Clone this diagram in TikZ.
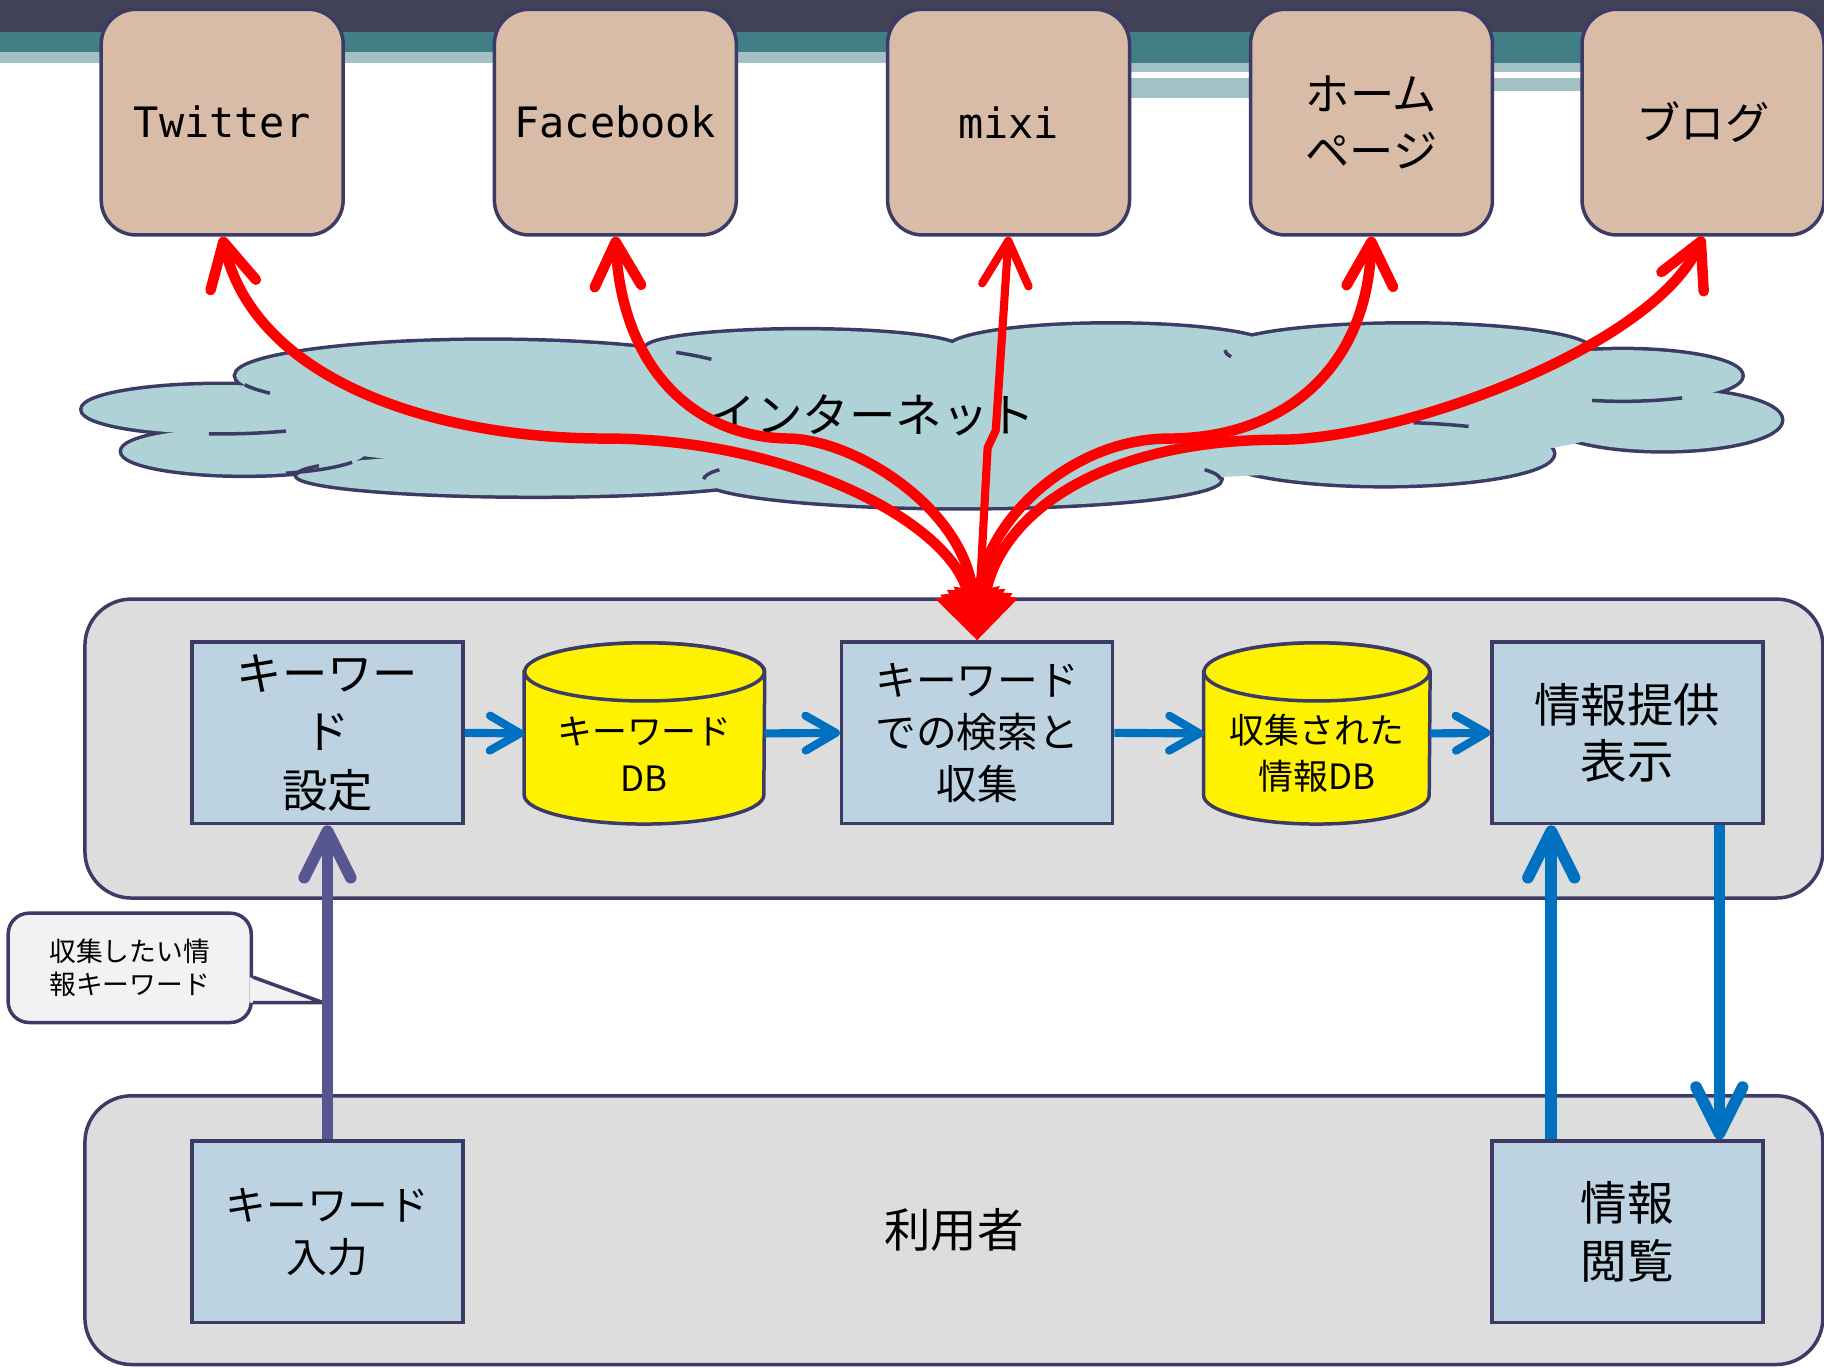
\documentclass[tikz,border=0pt]{standalone}
\usepackage{fontspec}
\setmainfont{Noto Sans CJK JP}
\newfontfamily\latinmono{DejaVu Sans Mono}
\usetikzlibrary{arrows.meta,calc}

\definecolor{navyline}{HTML}{3B3B66}
\definecolor{siteFill}{HTML}{D9BCA8}
\definecolor{cloudFill}{HTML}{AED2D6}
\definecolor{panelFill}{HTML}{DDDDDD}
\definecolor{boxFill}{HTML}{BDD3E1}
\definecolor{noteFill}{HTML}{F2F2F2}
\definecolor{flowBlue}{HTML}{0070C0}
\definecolor{inPurple}{HTML}{565690}
\definecolor{bandDark}{HTML}{414257}
\definecolor{bandTeal}{HTML}{417E85}
\definecolor{bandLight}{HTML}{A2C0C5}

% cylinder drawn round an empty slot node: #1 node, #2 x radius
\newcommand{\dbcyl}[2]{%
  \filldraw[dbbody] ($(#1.north west)+(0,25)$) -- ($(#1.south west)-(0,25)$)
    arc[start angle=180, end angle=0, x radius=#2, y radius=25]
    -- ($(#1.north east)+(0,25)$)
    arc[start angle=0, end angle=-180, x radius=#2, y radius=25] -- cycle;
  \draw[dbbody] ($(#1.north)+(0,25)$) ellipse[x radius=#2, y radius=25];}

\begin{document}
\begin{tikzpicture}[x=0.5pt, y=-0.5pt,
    site/.style={rectangle, rounded corners=15pt, draw=navyline, line width=1.5pt,
        fill=siteFill, minimum width=104pt, minimum height=97pt, align=center,
        font=\fontsize{19}{24.5}\selectfont},
    panel/.style={rectangle, rounded corners=20pt, draw=navyline, line width=1.5pt,
        fill=panelFill, minimum width=747pt, font=\fontsize{20}{25}\selectfont},
    proc/.style={rectangle, draw=navyline, line width=1.5pt, fill=boxFill,
        minimum width=116.5pt, minimum height=78pt, align=center,
        font=\fontsize{19.5}{25}\selectfont},
    dbslot/.style={rectangle, minimum height=77.5pt, inner sep=0pt},
    dbbody/.style={draw=navyline, line width=1.5pt, fill=yellow},
    dbtext/.style={align=center, font=\fontsize{15}{20}\selectfont},
    note/.style={rectangle, rounded corners=9pt, draw=navyline, line width=1.5pt,
        fill=noteFill, minimum width=104.5pt, minimum height=47pt, align=center,
        font=\fontsize{11.5}{14}\selectfont},
    fetch/.style={draw=red, line width=4.5pt, line cap=round, line join=round,
        arrows={Triangle[length=21pt,width=27pt]-Straight Barb[round,length=19pt,width=20pt]}},
    flow/.style={draw=flowBlue, line width=3.5pt,
        -{Straight Barb[round,length=13pt,width=15pt]}},
    flowv/.style={draw=flowBlue, line width=5pt,
        -{Straight Barb[round,length=20pt,width=20pt]}},
    entry/.style={draw=inPurple, line width=5pt,
        -{Straight Barb[round,length=20pt,width=20pt]}}
]
    \useasboundingbox (0,0) rectangle (1568,1176);

    % title bands
    \fill[bandDark] (0,0) rectangle (1568,27.5);
    \fill[bandTeal] (0,27.5) rectangle (1568,44.7);
    \fill[bandLight] (0,44.7) rectangle (970,54.2);
    \fill[bandTeal] (970,44.7) rectangle (1568,54.2);
    \fill[bandLight] (970,54.2) rectangle (1568,61.6);
    \fill[bandLight] (970,67.4) rectangle (1283,84);
    \fill[bandLight] (1283,67.4) rectangle (1568,78);

    % sites
    \node[site, font=\latinmono\fontsize{18}{22}\selectfont] (tw) at (191,105) {Twitter};
    \node[site, font=\latinmono\fontsize{18}{22}\selectfont] (fb) at (529,105) {Facebook};
    \node[site, font=\latinmono\fontsize{18}{22}\selectfont] (mx) at (867,105) {mixi};
    \node[site] (hp) at (1179,105) {ホーム\\ページ};
    \node[site] (blog) at (1464,105) {ブログ};

    % internet cloud
    \foreach \cx/\cy/\rx/\ry in {420/323/217/30, 690/300/135/16, 955/300/140/21,
        1210/301/157/22, 1395/323/102/22, 1430/361/101/26, 1190/390/145/27,
        827/412/222/24, 460/408/205/18, 190/352/119/21, 210/388/105/20}
        \filldraw[draw=navyline, line width=3pt, fill=cloudFill] (\cx,\cy) ellipse[x radius=\rx, y radius=\ry];
    \foreach \cx/\cy/\rx/\ry in {420/323/217/30, 690/300/135/16, 955/300/140/21,
        1210/301/157/22, 1395/323/102/22, 1430/361/101/26, 1190/390/145/27,
        827/412/222/24, 460/408/205/18, 190/352/119/21, 210/388/105/20, 800/360/600/55,
        1250/345/160/30}
        \fill[cloudFill] (\cx,\cy) ellipse[x radius=\rx, y radius=\ry];
    \foreach \cx/\cy/\rx/\ry/\a/\b in {190/352/119/21/95/62, 210/388/105/20/70/28,
        460/408/205/18/180/205, 827/412/222/24/0/-20, 1190/390/145/27/-80/-60,
        1395/323/102/22/105/60, 420/323/217/30/-42/-28, 420/323/217/30/165/150,
        827/412/222/24/180/200, 1210/301/157/22/180/165}
        \draw[navyline, line width=1.5pt] ({\cx+\rx*cos(\a)},{\cy+\ry*sin(\a)})
            arc[start angle=\a, end angle=\b, x radius=\rx, y radius=\ry];
    \node[font=\fontsize{20}{24}\selectfont] (net) at (750,357) {インターネット};

    % system and user panels
    \node[panel, minimum height=128.5pt] (sys) at (820,643.5) {};
    \node[panel, minimum height=115.5pt] (usr) at (820,1057.5) {利用者};

    \node[proc] (kset) at (281.5,630) {キーワー\\ド\\設定};
    \node[dbslot, minimum width=103pt] (kdb) at (554,630.5) {};
    \dbcyl{kdb}{103}
    \node[dbtext] (kdbtext) at ($(kdb)+(0,18)$) {キーワード\\DB};
    \node[proc, font=\fontsize{17.5}{22.5}\selectfont] (srch) at (840,630) {キーワード\\での検索と\\収集};
    \node[dbslot, minimum width=97pt] (idb) at (1132,630.5) {};
    \dbcyl{idb}{97}
    \node[dbtext] (idbtext) at ($(idb)+(0,17)$) {収集された\\情報DB};
    \node[proc, font=\fontsize{20}{24}\selectfont] (show) at (1399,630) {情報提供\\表示};

    \node[proc, font=\fontsize{17.5}{22.5}\selectfont] (kin) at (281.5,1059) {キーワード\\入力};
    \node[proc, font=\fontsize{20}{25}\selectfont] (view) at (1399,1059) {情報\\閲覧};

    \draw[flow] (kset.east) -- (kdb.west);
    \draw[flow] (kdb.east) -- (srch.west);
    \draw[flow] (srch.east) -- (idb.west);
    \draw[flow] (idb.east) -- (show.west);
    \draw[flowv] ($(view.north west)+(52.5,0)$) -- ($(show.south west)+(52.5,0)$);
    \draw[flowv] ($(show.south east)+(-39,0)$) -- ($(view.north east)+(-39,0)$);

    % callout
    \node[note] (hint) at (111.5,832) {収集したい情\\報キーワード};
    \coordinate (hinttip) at (278,862);
    \fill[noteFill] ($(hint.east)+(-3,8)$) -- (hinttip) -- ($(hint.east)+(-3,30)$) -- cycle;
    \draw[navyline, line width=1.5pt, line join=round] ($(hint.east)+(0,8)$) -- (hinttip) -- ($(hint.east)+(0,30)$);
    \draw[entry] (kin.north) -- (kset.south);

    % fetching over the internet
    \draw[fetch] (srch.north) .. controls (820,450) and (680,377) .. (520,377)
        .. controls (380,377) and (220,330) .. (tw.south);
    \draw[fetch] (srch.north) .. controls (830,440) and (740,380) .. (680,377)
        .. controls (600,377) and (535,320) .. (fb.south);
    \draw[fetch, line width=3.5pt] (srch.north) -- (849,385) -- (856,370) -- (mx.south);
    \draw[fetch] (srch.north) .. controls (845,450) and (920,377) .. (1005,377)
        .. controls (1100,377) and (1175,320) .. (hp.south);
    \draw[fetch] (srch.north) .. controls (860,440) and (950,378) .. (1100,378)
        .. controls (1200,378) and (1420,300) .. (blog.south);
\end{tikzpicture}
\end{document}
